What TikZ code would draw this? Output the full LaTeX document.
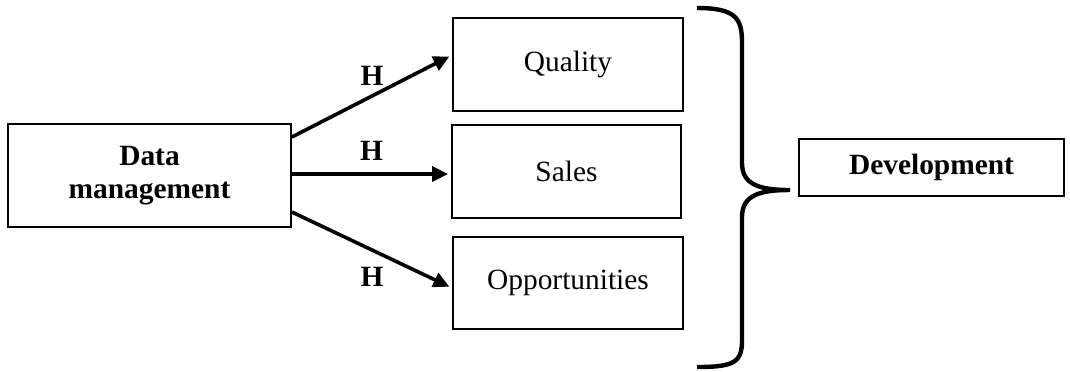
\documentclass[tikz,border=0pt]{standalone}
\usepackage{fontspec}
\setmainfont{Liberation Serif}
\usepackage{tikz}
\usetikzlibrary{positioning,arrows.meta}

\begin{document}
\begin{tikzpicture}[
    x=0.5pt, y=-0.5pt,
    font={\fontsize{14.7pt}{16.5pt}\selectfont},
    box/.style={draw, line width=0.9pt, inner sep=0pt, align=center},
    boldbox/.style={box, font={\fontsize{14.7pt}{16.5pt}\selectfont\bfseries}},
    link/.style={line width=1.8pt, -{Triangle[length=8pt,width=7.5pt]}, shorten >=1.5pt},
    hlabel/.style={inner sep=0pt, font={\fontsize{14.7pt}{16.5pt}\selectfont\bfseries}},
]
    \useasboundingbox (0,0) rectangle (1070,371);

    \node[boldbox, minimum width=141.5pt, minimum height=51.5pt] (data) at (149.5,175.5) {Data\\management};
    \node[box, minimum width=115pt, minimum height=46.5pt] (quality) at (568,64.5) {Quality};
    \node[box, minimum width=114.5pt, minimum height=46.5pt] (sales) at (566.5,171.5) {Sales};
    \node[box, minimum width=115pt, minimum height=46pt] (opport) at (568,283) {Opportunities};
    \node[boldbox, minimum width=132.5pt, minimum height=28.5pt] (devel) at (931.5,167.5) {Development};

    \draw[link] ([yshift=19.25pt]data.east) -- node[hlabel, above=4.5pt] {H} ([yshift=4.75pt]quality.west);
    \draw[link] ([yshift=0.75pt]data.east) -- node[hlabel, above=5.75pt] {H} ([yshift=0.75pt]data.east -| sales.west);
    \draw[link] ([yshift=-18.25pt]data.east) -- node[hlabel, below=7.75pt] {H} ([yshift=-2.5pt]opport.west);

    % brace
    \coordinate (tip) at (790,190);
    \draw[line width=2.2pt] (697,8) .. controls (735,8) and (742,18) .. (742,42)
        -- (742,163) .. controls (742,185) and (760,190) .. (tip)
        .. controls (760,190) and (742,195) .. (742,217)
        -- (742,340) .. controls (742,362) and (735,367) .. (697,367);

\end{tikzpicture}
\end{document}
